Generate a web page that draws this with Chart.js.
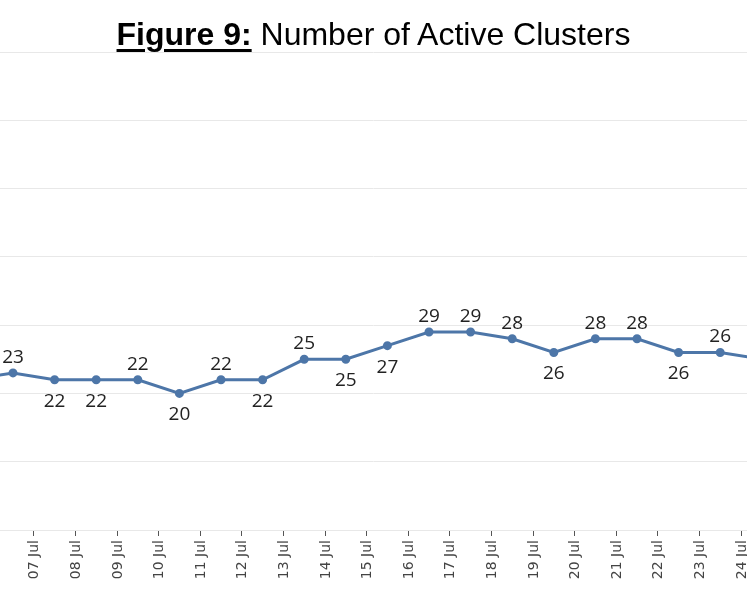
<!DOCTYPE html>
<html lang="en">
<head>
    <meta charset="UTF-8">
    <title>Number of Active Clusters</title>
    <script src="https://cdn.jsdelivr.net/npm/chart.js"></script>
    <style>
        html, body { margin: 0; padding: 0; background: #fff; overflow: hidden; }
        #wrap { position: relative; width: 747px; height: 598px; }
        #title {
            position: absolute; left: 0; top: 18px; width: 747px;
            text-align: center; font-family: "Liberation Sans", Arial, sans-serif;
            font-size: 32px; line-height: 32px; color: #000;
        }
        #title b { text-decoration: underline; text-decoration-thickness: 3px; text-underline-offset: 4px; }
    </style>
</head>
<body>
<div id="wrap">
    <canvas id="clusters" width="747" height="598"></canvas>
    <div id="title"><b>Figure 9:</b> Number of Active Clusters</div>
</div>
<script>
    // one entry per day, the first and last fall just outside the visible crop
    const dates = ['06 Jul', '07 Jul', '08 Jul', '09 Jul', '10 Jul', '11 Jul', '12 Jul', '13 Jul', '14 Jul', '15 Jul',
                   '16 Jul', '17 Jul', '18 Jul', '19 Jul', '20 Jul', '21 Jul', '22 Jul', '23 Jul', '24 Jul', '25 Jul'];
    const activeClusters = [22, 23, 22, 22, 22, 20, 22, 22, 25, 25, 27, 29, 29, 28, 26, 28, 28, 26, 26, 25];
    // where each value label sits: 'a' above the point, 'b' below
    const labelSide = ['a', 'a', 'b', 'b', 'a', 'b', 'a', 'b', 'a', 'b', 'b', 'a', 'a', 'a', 'b', 'a', 'a', 'b', 'a', 'a'];
    const yTicks = [0, 10, 20, 30, 40, 50, 60, 70];

    const lineColor = '#4d76a8';

    const valueLabels = {
        id: 'valueLabels',
        afterDatasetsDraw(chart) {
            const ctx = chart.ctx;
            const meta = chart.getDatasetMeta(0);
            ctx.save();
            ctx.font = '19px "Open Sans", sans-serif';
            ctx.fillStyle = '#222';
            ctx.textAlign = 'center';
            ctx.textBaseline = 'alphabetic';
            meta.data.forEach((pt, i) => {
                const y = labelSide[i] === 'a' ? pt.y - 10 : pt.y + 27;
                ctx.fillText(String(activeClusters[i]), pt.x, y);
            });
            ctx.restore();
        }
    };

    new Chart(document.getElementById('clusters'), {
        type: 'line',
        data: {
            datasets: [{
                data: activeClusters.map((v, i) => ({ x: i, y: v })),
                borderColor: lineColor,
                backgroundColor: lineColor,
                borderWidth: 3,
                pointRadius: 3,
                pointHoverRadius: 3,
                tension: 0
            }]
        },
        options: {
            responsive: false,
            animation: false,
            layout: { autoPadding: false, padding: { top: 52, left: 0, right: 0, bottom: 0 } },
            plugins: {
                legend: { display: false },
                tooltip: { enabled: false }
            },
            scales: {
                x: {
                    type: 'linear',
                    min: 0.6875,
                    max: 18.644,
                    afterBuildTicks(scale) {
                        const t = [];
                        for (let i = 1; i < dates.length - 1; i++) t.push({ value: i + 0.5 });
                        scale.ticks = t;
                    },
                    afterFit(scale) {
                        scale.height = 68;
                        scale.paddingLeft = 0;
                        scale.paddingRight = 0;
                    },
                    ticks: {
                        minRotation: 90,
                        maxRotation: 90,
                        autoSkip: false,
                        padding: 4,
                        labelOffset: 1,
                        color: '#444',
                        font: { family: 'DejaVu Sans', size: 14 },
                        callback: (v) => dates[Math.floor(v)]
                    },
                    grid: {
                        drawOnChartArea: false,
                        drawTicks: true,
                        tickLength: 6,
                        tickColor: '#555',
                        tickWidth: 1
                    },
                    border: { display: true, color: '#e8e8e8' }
                },
                y: {
                    min: yTicks[0],
                    max: yTicks[yTicks.length - 1],
                    afterBuildTicks(scale) {
                        scale.ticks = yTicks.map(v => ({ value: v }));
                    },
                    ticks: { display: false },
                    grid: { color: '#e8e8e8', drawTicks: false },
                    border: { display: false }
                }
            }
        },
        plugins: [valueLabels]
    });
</script>
</body>
</html>
